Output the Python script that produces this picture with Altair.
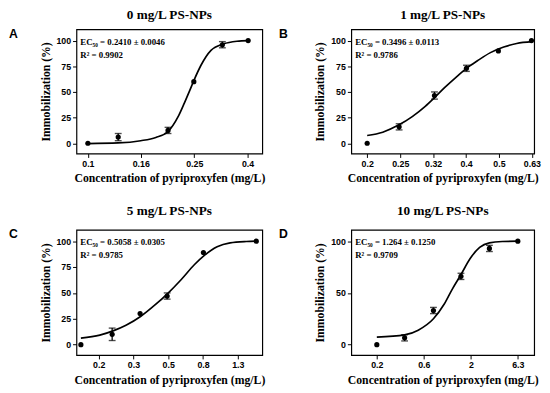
import altair as alt
import pandas as pd

# ---------------- data ----------------
titles = ["0 mg/L PS-NPs", "1 mg/L PS-NPs", "5 mg/L PS-NPs", "10 mg/L PS-NPs"]
letters = ["A", "B", "C", "D"]
ec50_text = ["EC\u2085\u2080 = 0.2410 \u00b1 0.0046", "EC\u2085\u2080 = 0.3496 \u00b1 0.0113",
             "EC\u2085\u2080 = 0.5058 \u00b1 0.0305", "EC\u2085\u2080 = 1.264 \u00b1 0.1250"]
r2_text = ["R\u00b2 = 0.9902", "R\u00b2 = 0.9786", "R\u00b2 = 0.9785", "R\u00b2 = 0.9709"]

A_conc = [0.1, 0.13, 0.2, 0.25, 0.32, 0.4]
A_mean = [0, 6, 12.5, 60, 96, 100]
A_err = [0, 3.5, 3, 0, 3, 0]
A_fit_x = [0.1, 0.13, 0.158, 0.18, 0.2, 0.218, 0.231, 0.241, 0.251, 0.266, 0.29, 0.323, 0.363, 0.4]
A_fit_y = [-0.3, 0.3, 2.5, 5.7, 11.4, 25.6, 39.9, 51, 62, 76, 90.5, 96.8, 99.4, 100]

B_conc = [0.2, 0.25, 0.32, 0.4, 0.5, 0.63]
B_mean = [0, 16, 46.5, 73, 90, 100]
B_err = [0, 3, 3.5, 3, 0, 0]
B_fit_x = [0.2, 0.223, 0.249, 0.274, 0.3, 0.319, 0.344, 0.377, 0.4, 0.432, 0.473, 0.519, 0.568, 0.632]
B_fit_y = [7.6, 10.8, 17.7, 26, 36, 44, 54.4, 66, 73, 80.4, 88.3, 93.7, 97.2, 99]

C_conc = [0.158, 0.239, 0.346, 0.495, 0.8, 1.61]
C_mean = [0, 10, 30, 47, 89, 100]
C_err = [0, 6, 0, 3, 0, 0]
C_fit_x = [0.158, 0.203, 0.242, 0.287, 0.348, 0.423, 0.498, 0.597, 0.709, 0.807, 0.959, 1.14, 1.41, 1.61]
C_fit_y = [6.3, 9.2, 13.3, 18.7, 27.2, 38.6, 49.4, 63, 77.2, 86, 94.6, 98.4, 99.7, 100]

D_conc = [0.2, 0.395, 0.8, 1.57, 3.15, 6.32]
D_mean = [0, 6.6, 33, 66, 93, 100]
D_err = [0, 3, 3, 3, 3, 0]
D_fit_x = [0.2, 0.395, 0.551, 0.8, 1.039, 1.266, 1.568, 1.958, 2.48, 3.15, 4.32, 6.32]
D_fit_y = [7.2, 9.4, 14, 25, 39, 53.5, 67.6, 83, 94, 98.4, 99.7, 100]

x_domains = [[0.0906, 0.452], [0.179, 0.642], [0.149, 1.744], [0.107, 9.43]]
x_tick_values = [[0.1, 0.158, 0.251, 0.398],
                 [0.2, 0.252, 0.317, 0.399, 0.502, 0.632],
                 [0.2, 0.317, 0.502, 0.796, 1.262],
                 [0.2, 0.632, 2.0, 6.32]]
x_tick_labels = [["0.1", "0.16", "0.25", "0.4"],
                 ["0.2", "0.25", "0.32", "0.4", "0.5", "0.63"],
                 ["0.2", "0.3", "0.5", "0.8", "1.3"],
                 ["0.2", "0.6", "2", "6.3"]]
y_tick_values = [[0, 25, 50, 75, 100], [0, 25, 50, 75, 100], [0, 25, 50, 75, 100], [0, 50, 100]]
y_domain = [-10, 111]

x_title = "Concentration of pyriproxyfen (mg/L)"
y_title = "Immobilization (%)"

SERIF = "Liberation Serif"
SANS = "Liberation Sans"


def label_expr(vals, labs):
    parts = [f"abs(datum.value - {v}) < {v * 0.002} ? '{l}'" for v, l in zip(vals, labs)]
    return " : ".join(parts) + " : ''"


def panel(i, conc, mean, err, fx, fy, width, height, letter_dx, title_offset):
    pts = pd.DataFrame({"conc": conc, "mean": mean, "err": err})
    pts["lo"] = pts["mean"] - pts["err"]
    pts["hi"] = pts["mean"] + pts["err"]
    fit = pd.DataFrame({"conc": fx, "val": fy})

    xs = alt.Scale(type="log", domain=x_domains[i], nice=False)
    ys = alt.Scale(domain=y_domain, nice=False, zero=False)
    xax = alt.Axis(values=x_tick_values[i], labelExpr=label_expr(x_tick_values[i], x_tick_labels[i]),
                   title=x_title, titleFont=SERIF, titleFontWeight="bold", titleFontSize=12,
                   titleColor="black")
    yax = alt.Axis(values=y_tick_values[i], title=y_title, titleFont=SERIF, titleFontWeight="bold",
                   titleFontSize=12, titleColor="black")
    X = lambda f: alt.X(f, scale=xs, axis=xax)
    Y = lambda f: alt.Y(f, scale=ys, axis=yax)

    base = alt.Chart(pts)
    line = alt.Chart(fit).mark_line(color="black", strokeWidth=1.7, interpolate="monotone").encode(
        x=X("conc:Q"), y=Y("val:Q"))
    ebars = base.transform_filter("datum.err > 0")
    rule = ebars.mark_rule(color="black", strokeWidth=1.3).encode(
        x=X("conc:Q"), y=Y("lo:Q"), y2="hi:Q")
    cap_lo = ebars.mark_tick(color="black", orient="horizontal", size=7, thickness=1.4).encode(
        x=X("conc:Q"), y=Y("lo:Q"))
    cap_hi = ebars.mark_tick(color="black", orient="horizontal", size=7, thickness=1.4).encode(
        x=X("conc:Q"), y=Y("hi:Q"))
    dots = base.mark_circle(color="black", size=28, opacity=1).encode(
        x=X("conc:Q"), y=Y("mean:Q"))

    txt = pd.DataFrame({"ec": [ec50_text[i]], "r2": [r2_text[i]], "lab": [letters[i]]})
    t1 = alt.Chart(txt).mark_text(font=SERIF, fontWeight="bold", fontSize=9, align="left",
                                  baseline="alphabetic", color="black").encode(
        x=alt.value(4), y=alt.value(16), text="ec:N")
    t2 = alt.Chart(txt).mark_text(font=SERIF, fontWeight="bold", fontSize=9, align="left",
                                  baseline="alphabetic", color="black").encode(
        x=alt.value(4), y=alt.value(29), text="r2:N")
    lab = alt.Chart(txt).mark_text(font=SANS, fontWeight="bold", fontSize=12.5, align="left",
                                   baseline="alphabetic", color="black").encode(
        x=alt.value(letter_dx), y=alt.value(8.5), text="lab:N")

    return alt.layer(line, rule, cap_lo, cap_hi, dots, t1, t2, lab).properties(
        width=width, height=height,
        title=alt.TitleParams(titles[i], font=SERIF, fontSize=13.5, fontWeight="bold",
                              anchor="middle", offset=title_offset, color="black"))


pA = panel(0, A_conc, A_mean, A_err, A_fit_x, A_fit_y, 190, 127, -69, 6.5)
pB = panel(1, B_conc, B_mean, B_err, B_fit_x, B_fit_y, 187, 127, -74, 6.5)
pC = panel(2, C_conc, C_mean, C_err, C_fit_x, C_fit_y, 190, 128, -69, 11)
pD = panel(3, D_conc, D_mean, D_err, D_fit_x, D_fit_y, 187, 128, -74, 11)

chart = alt.vconcat(
    alt.hconcat(pA, pB, spacing=12),
    alt.hconcat(pC, pD, spacing=12),
    spacing=19,
).properties(padding={"left": 0, "top": -5.5, "right": 0, "bottom": 0}).configure_view(
    stroke="black", strokeWidth=1.2
).configure_axis(
    grid=False, domain=False, ticks=True, tickSize=4, tickColor="black", tickWidth=1,
    labelFont=SANS, labelFontWeight="bold", labelFontSize=9, labelColor="black", labelPadding=2,
    labelFlush=False, labelOverlap=False, labelBound=False,
    titleFont=SERIF, titleFontWeight="bold", titleFontSize=12, titleColor="black"
).configure_axisX(titlePadding=5).configure_axisY(titlePadding=4)

chart.save("out.html", embed_options={"renderer": "svg", "actions": False})
